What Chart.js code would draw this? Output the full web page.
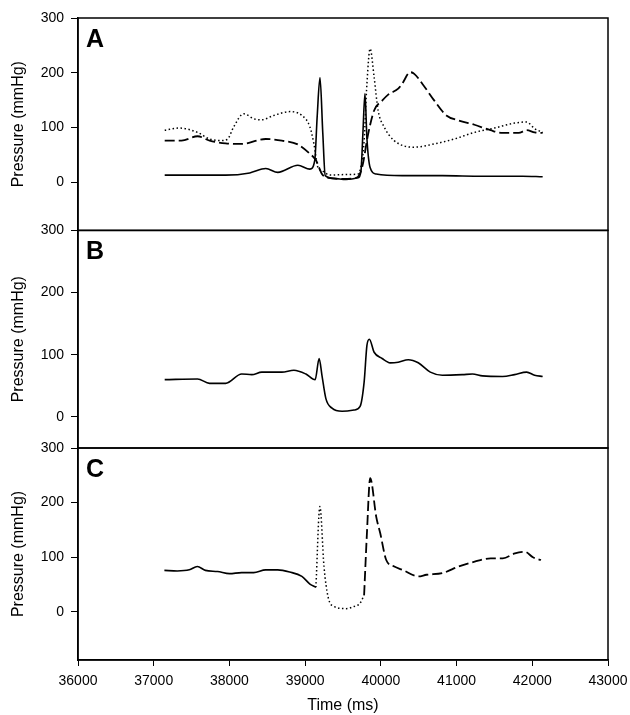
<!DOCTYPE html>
<html>
<head>
<meta charset="utf-8">
<script src="https://cdn.jsdelivr.net/npm/chart.js@4"></script>
<style>
  body { margin: 0; background: #fff; }
</style>
</head>
<body>
<canvas id="pressureChart" width="630" height="715"></canvas>
<script>
const FONT = '"Liberation Sans", Arial, sans-serif';

const panelLetters = ['A', 'B', 'C'];
const xTickVals = [36000, 37000, 38000, 39000, 40000, 41000, 42000, 43000];
const yTickVals = [0, 100, 200, 300];

// panel A
const aSolidT = [37145, 37526, 37950, 38268, 38480, 38639, 38904, 39063, 39127, 39159, 39196, 39233, 39265, 39381, 39540, 39699, 39737, 39763, 39790, 39816, 39858, 39938, 40282, 40812, 41342, 41872, 42137];
const aSolidV = [13, 13, 13, 17, 25, 18, 31, 24, 40, 120, 191, 90, 12, 7, 5, 8, 20, 90, 162, 80, 27, 15, 12, 12, 11, 11, 10];

const aDashT = [37145, 37367, 37579, 37738, 37950, 38162, 38480, 38692, 38904, 39063, 39143, 39222, 39275, 39487, 39673, 39752, 39832, 39911, 40017, 40097, 40229, 40282, 40388, 40441, 40547, 40706, 40865, 41024, 41236, 41448, 41607, 41819, 41925, 42031, 42137];
const aDashV = [76, 76, 84, 76, 71, 70, 79, 76, 69, 52, 40, 15, 9, 6, 8, 27, 88, 131, 149, 160, 171, 180, 201, 198, 180, 149, 122, 113, 105, 95, 90, 90, 95, 91, 90];

const aDotT = [37145, 37341, 37579, 37738, 37897, 37977, 38056, 38189, 38321, 38427, 38586, 38798, 38957, 39063, 39116, 39169, 39222, 39328, 39540, 39699, 39752, 39779, 39816, 39858, 39911, 39964, 40044, 40176, 40441, 40706, 40971, 41236, 41501, 41766, 41925, 42031, 42137];
const aDotV = [95, 99, 91, 79, 76, 79, 101, 125, 116, 114, 122, 129, 122, 101, 70, 27, 21, 13, 14, 15, 40, 76, 180, 244, 192, 131, 101, 76, 64, 70, 79, 91, 99, 108, 110, 98, 91];

// panel B
const bSolidT = [37145, 37579, 37738, 37950, 38162, 38295, 38427, 38692, 38851, 39010, 39132, 39185, 39222, 39275, 39355, 39487, 39646, 39726, 39779, 39816, 39848, 39911, 40017, 40123, 40229, 40362, 40494, 40653, 40812, 41077, 41210, 41342, 41607, 41766, 41925, 42031, 42137];
const bSolidV = [60, 61, 54, 54, 69, 68, 72, 72, 75, 69, 60, 94, 67, 29, 14, 9, 11, 17, 56, 115, 125, 104, 94, 87, 88, 92, 87, 72, 67, 68, 69, 66, 65, 68, 72, 67, 65];

// panel C
const cSolidT = [37141, 37311, 37470, 37576, 37683, 37842, 38001, 38160, 38320, 38479, 38638, 38797, 38957, 39063, 39142];
const cSolidV = [76, 75, 77, 83, 76, 74, 70, 72, 72, 77, 77, 73, 65, 51, 45];

const cDotT = [39142, 39195, 39249, 39302, 39381, 39540, 39647, 39726, 39779];
const cDotV = [45, 193, 83, 28, 10, 6, 10, 16, 31];

const cDashT = [39779, 39816, 39859, 39939, 39992, 40071, 40177, 40284, 40496, 40602, 40814, 41027, 41239, 41451, 41611, 41770, 41902, 42009, 42115];
const cDashV = [31, 144, 245, 174, 144, 95, 83, 77, 65, 68, 71, 83, 92, 98, 98, 107, 110, 100, 95];

const SOLID = { w: 1.6, dash: [] };
const DASH = { w: 1.8, dash: [10, 4] };
const DOT = { w: 1.5, dash: [1.5, 2.5] };

function pts(t, v) {
  return t.map((x, i) => ({ x: x, y: v[i] }));
}

function lineSet(t, v, axis, style) {
  return {
    data: pts(t, v),
    yAxisID: axis,
    borderColor: '#000',
    borderWidth: style.w,
    borderDash: style.dash,
    pointRadius: 0,
    cubicInterpolationMode: 'monotone',
    fill: false
  };
}

function panelAxis(min, weight, stackWeight) {
  return {
    type: 'linear',
    position: 'left',
    stack: 'panels',
    stackWeight: stackWeight,
    weight: weight,
    min: min,
    max: 300,
    afterBuildTicks: s => { s.ticks = yTickVals.map(v => ({ value: v })); },
    afterFit: s => { s.width = 78; },
    grid: { display: true, drawOnChartArea: false, drawTicks: true, tickLength: 7, color: '#000', tickColor: '#000' },
    border: { display: true, color: '#000', width: 1.5 },
    ticks: { color: '#000', padding: 7, font: { family: FONT, size: 14 }, callback: v => String(v) },
    title: { display: true, text: 'Pressure (mmHg)', color: '#000', font: { family: FONT, size: 16 }, padding: { top: 9, bottom: 0 } }
  };
}

const panelFrames = {
  id: 'panelFrames',
  afterDraw(chart) {
    const { ctx, chartArea } = chart;
    ctx.save();
    ctx.strokeStyle = '#000';
    ctx.lineWidth = 1.5;
    ctx.fillStyle = '#000';
    ctx.font = 'bold 25px ' + FONT;
    ['yA', 'yB', 'yC'].forEach((id, i) => {
      const s = chart.scales[id];
      ctx.strokeRect(chartArea.left, s.top, chartArea.right - chartArea.left, s.bottom - s.top);
      ctx.fillText(panelLetters[i], chartArea.left + 8, s.top + 29);
    });
    ctx.restore();
  }
};

const ctx = document.getElementById('pressureChart').getContext('2d');

new Chart(ctx, {
  type: 'line',
  data: {
    datasets: [
      lineSet(aSolidT, aSolidV, 'yA', SOLID),
      lineSet(aDashT, aDashV, 'yA', DASH),
      lineSet(aDotT, aDotV, 'yA', DOT),
      lineSet(bSolidT, bSolidV, 'yB', SOLID),
      lineSet(cSolidT, cSolidV, 'yC', SOLID),
      lineSet(cDotT, cDotV, 'yC', DOT),
      lineSet(cDashT, cDashV, 'yC', DASH)
    ]
  },
  options: {
    responsive: false,
    animation: false,
    layout: { padding: { left: 0, right: 22, top: 18, bottom: 0 } },
    plugins: { legend: { display: false }, tooltip: { enabled: false } },
    scales: {
      x: {
        type: 'linear',
        min: 36000,
        max: 43000,
        afterBuildTicks: s => { s.ticks = xTickVals.map(v => ({ value: v })); },
        afterFit: s => { s.height = 55; s.paddingRight = 0; s.paddingLeft = 0; },
        grid: { display: true, drawOnChartArea: false, drawTicks: true, tickLength: 6, color: '#000', tickColor: '#000' },
        border: { display: true, color: '#000', width: 1.5 },
        ticks: { color: '#000', padding: 7, maxRotation: 0, autoSkip: false, font: { family: FONT, size: 14 }, callback: v => String(v) },
        title: { display: true, text: 'Time (ms)', color: '#000', font: { family: FONT, size: 16 }, padding: { top: 0, bottom: 0 } }
      },
      yA: panelAxis(-88, 3, 212.4),
      yB: panelAxis(-50, 2, 217.6),
      yC: panelAxis(-88, 1, 212)
    }
  },
  plugins: [panelFrames]
});
</script>
</body>
</html>
